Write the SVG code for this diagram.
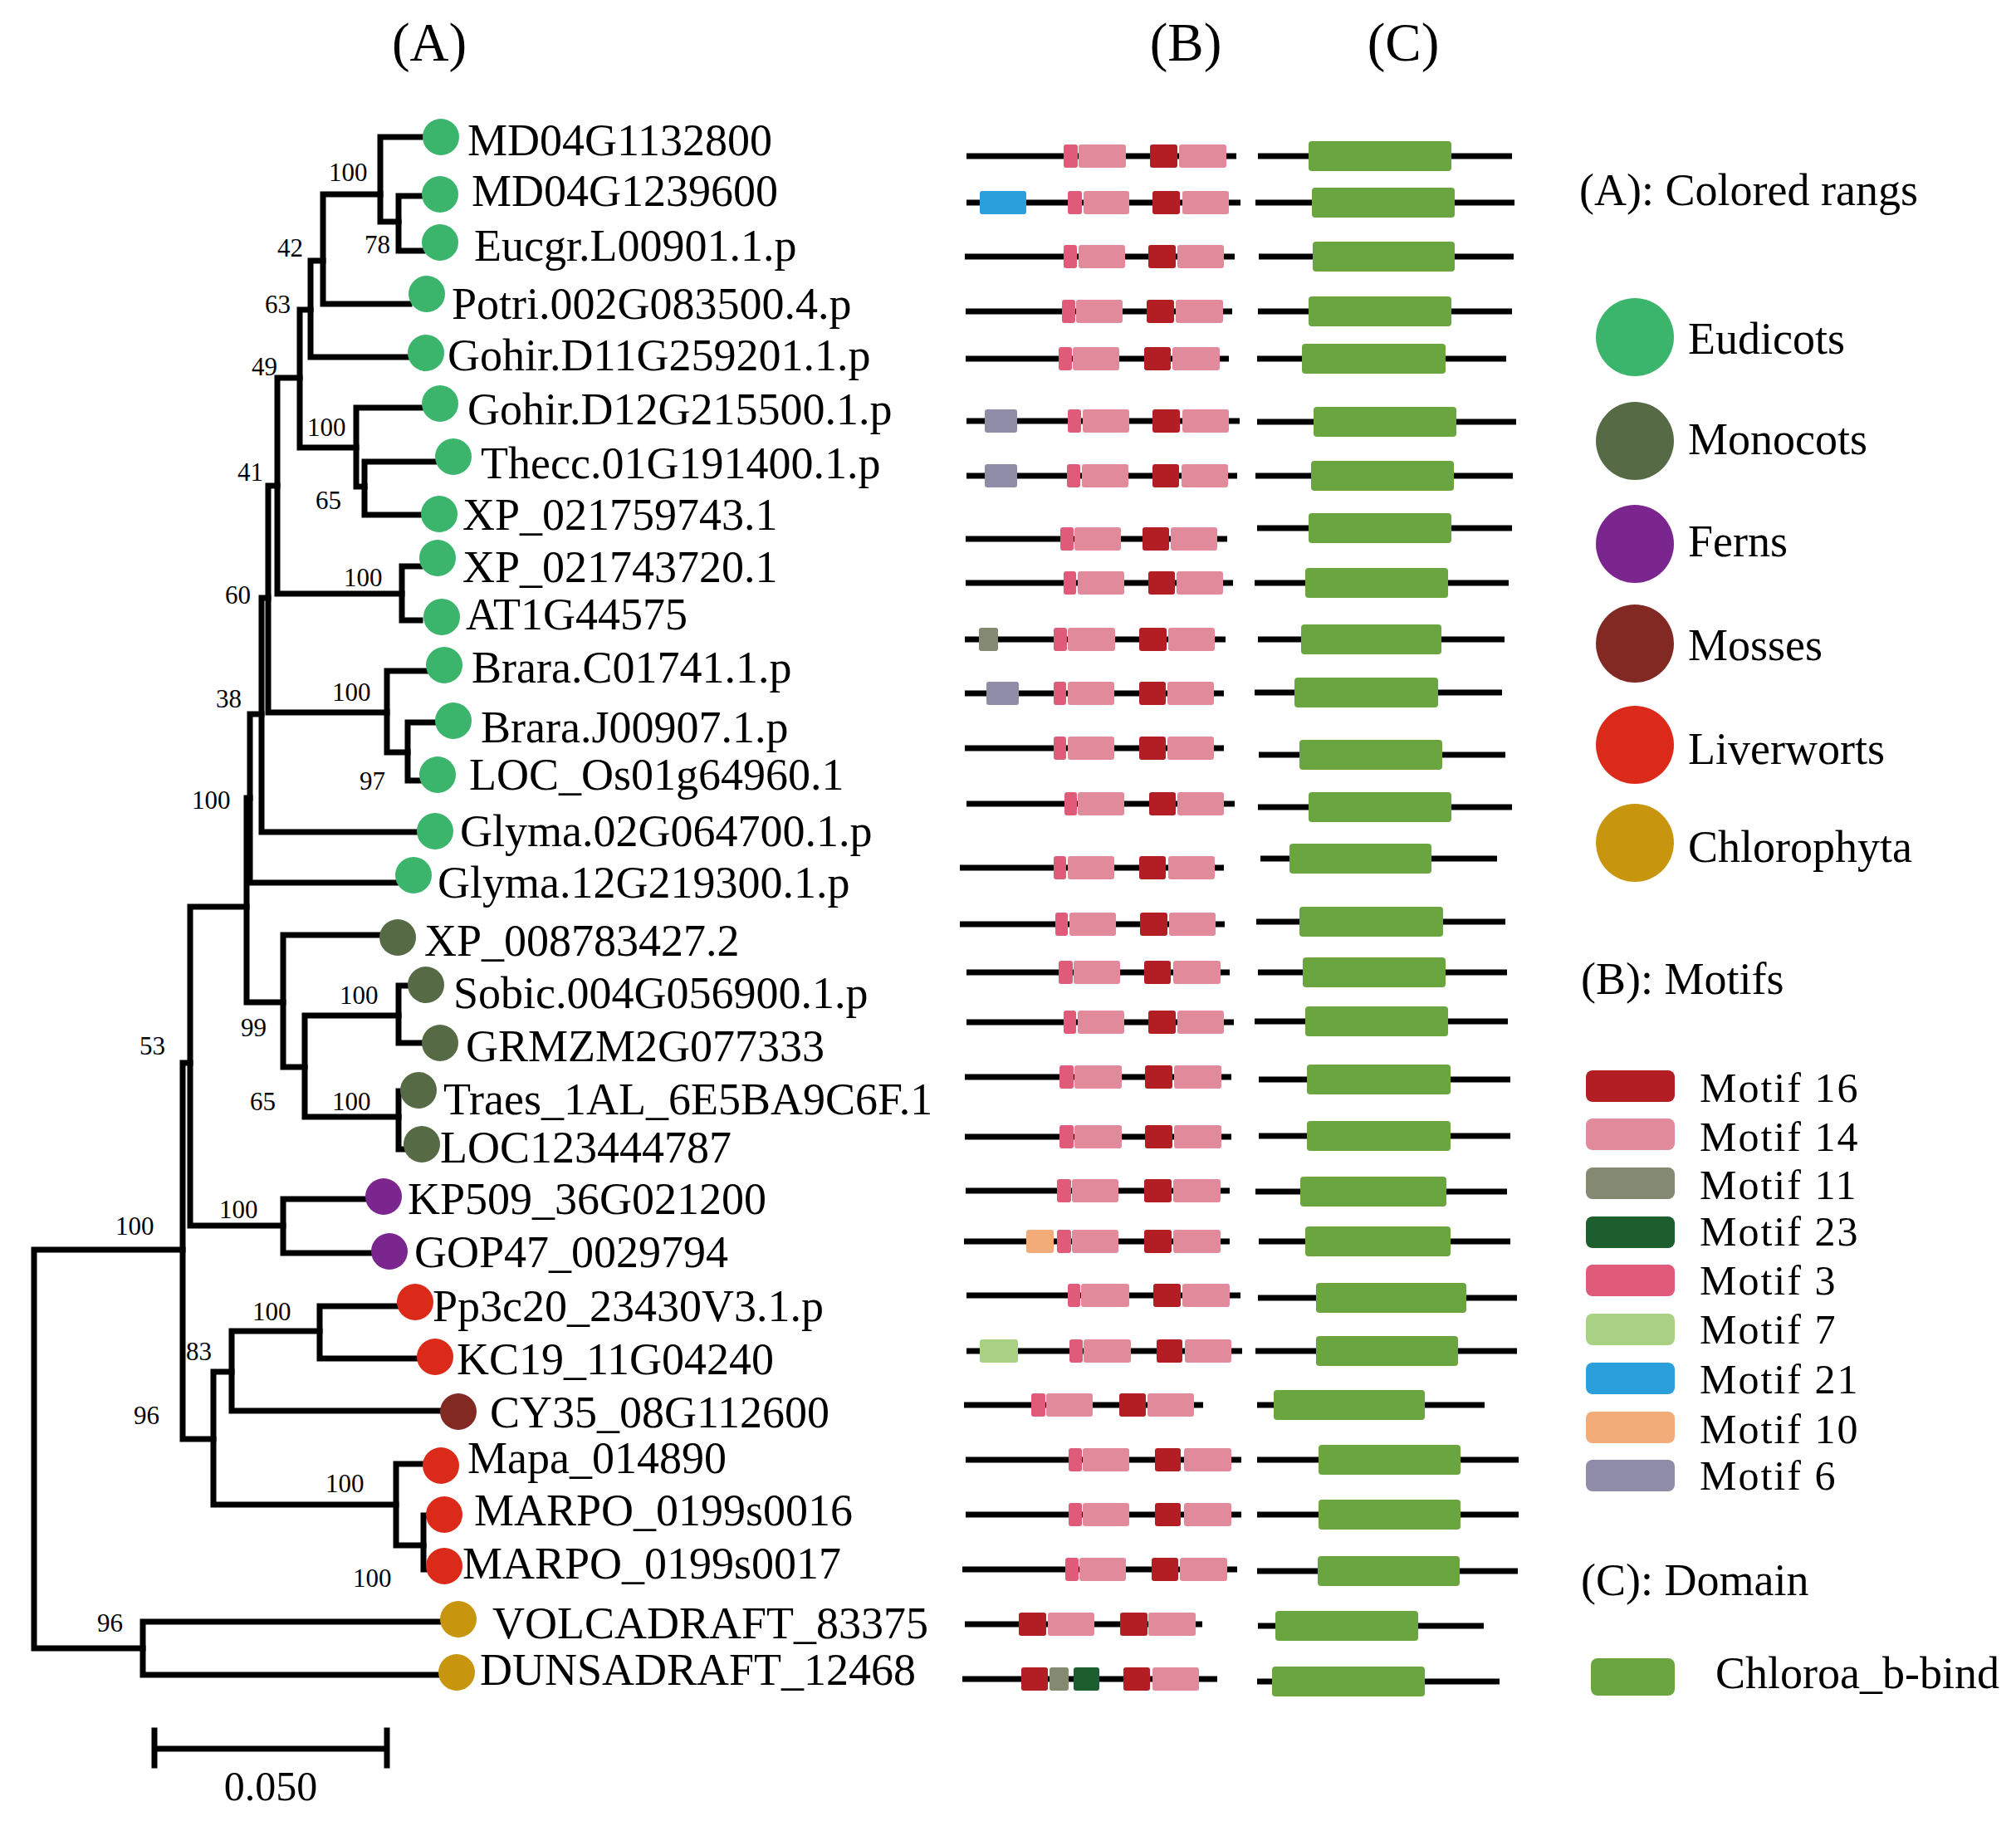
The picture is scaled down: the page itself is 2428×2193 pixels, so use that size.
<svg xmlns="http://www.w3.org/2000/svg" width="2428" height="2193" viewBox="0 0 2428 2193">
<style>
text{font-family:"Liberation Serif","Times New Roman",serif;fill:#000}
.hd{font-size:65px;text-anchor:middle}
.lf{font-size:54px}
.bs{font-size:31px}
.lg{font-size:54px}
.ml{font-size:50px;letter-spacing:2px}
.br{stroke:#000;stroke-width:7;stroke-linecap:square;fill:none}
.pl{stroke:#000;stroke-width:7}
.eu{fill:#3cb56c}.mo{fill:#566b45}.fe{fill:#7b268e}.ms{fill:#812922}.lv{fill:#dc2a1a}.ch{fill:#c8960e}
.m16{fill:#b31e24}.m14{fill:#e08a9c}.m11{fill:#848a72}.m23{fill:#1d5e2e}.m3{fill:#e05a7a}.m7{fill:#a9d183}.m21{fill:#2a9fdc}.m10{fill:#f2ac7a}.m6{fill:#8f8ca8}.dm{fill:#6aa540}
</style>
<rect width="2428" height="2193" fill="#fff"/>
<text class="hd" x="517" y="73">(A)</text>
<text class="hd" x="1428" y="73">(B)</text>
<text class="hd" x="1690" y="73">(C)</text>

<g id="connectors">
<path class="br" d="M220,1505 H41 V1985 H172"/>
<path class="br" d="M530,1953 H172 V2017 H528"/>
<path class="br" d="M229,1280 H220 V1733 H257"/>
<path class="br" d="M297,1092 H229 V1476 H341"/>
<path class="br" d="M440,1444 H341 V1509 H447"/>
<path class="br" d="M301,961 H297 V1207 H341"/>
<path class="br" d="M456,1126 H341 V1285 H367"/>
<path class="br" d="M480,1223 H367 V1345 H480"/>
<path class="br" d="M491,1187 H480 V1256 H508"/>
<path class="br" d="M484,1314 H480 V1384 H486"/>
<path class="br" d="M315,860 H301 V1063 H477"/>
<path class="br" d="M323,720 H315 V1002 H502"/>
<path class="br" d="M334,585 H323 V858 H466"/>
<path class="br" d="M513,808 H466 V906 H491"/>
<path class="br" d="M524,870 H491 V940 H506"/>
<path class="br" d="M361,455 H334 V715 H484"/>
<path class="br" d="M506,682 H484 V747 H506"/>
<path class="br" d="M374,373 H361 V539 H429"/>
<path class="br" d="M509,491 H429 V586 H439"/>
<path class="br" d="M524,556 H439 V620 H508"/>
<path class="br" d="M389,314 H374 V430 H492"/>
<path class="br" d="M458,234 H389 V366 H493"/>
<path class="br" d="M510,165 H458 V267 H480"/>
<path class="br" d="M510,236 H480 V302 H509"/>
<path class="br" d="M279,1652 H257 V1812 H477"/>
<path class="br" d="M385,1603 H279 V1699 H530"/>
<path class="br" d="M477,1573 H385 V1636 H502"/>
<path class="br" d="M510,1763 H477 V1861 H510"/>
<path class="br" d="M513,1825 H510 V1890 H513"/>
</g>

<g id="bootstrap">
<text class="bs" x="396" y="218">100</text>
<text class="bs" x="439" y="305">78</text>
<text class="bs" x="334" y="309">42</text>
<text class="bs" x="319" y="377">63</text>
<text class="bs" x="303" y="452">49</text>
<text class="bs" x="370" y="525">100</text>
<text class="bs" x="380" y="613">65</text>
<text class="bs" x="286" y="579">41</text>
<text class="bs" x="414" y="706">100</text>
<text class="bs" x="271" y="727">60</text>
<text class="bs" x="400" y="844">100</text>
<text class="bs" x="260" y="852">38</text>
<text class="bs" x="433" y="951">97</text>
<text class="bs" x="231" y="974">100</text>
<text class="bs" x="290" y="1248">99</text>
<text class="bs" x="409" y="1209">100</text>
<text class="bs" x="301" y="1337">65</text>
<text class="bs" x="400" y="1337">100</text>
<text class="bs" x="168" y="1270">53</text>
<text class="bs" x="264" y="1467">100</text>
<text class="bs" x="139" y="1487">100</text>
<text class="bs" x="304" y="1590">100</text>
<text class="bs" x="224" y="1638">83</text>
<text class="bs" x="161" y="1715">96</text>
<text class="bs" x="392" y="1797">100</text>
<text class="bs" x="425" y="1911">100</text>
<text class="bs" x="117" y="1965">96</text>
</g>

<g id="leaf01"><circle class="eu" cx="531" cy="165" r="22"/><text class="lf" x="563" y="187">MD04G1132800</text></g>
<g id="leaf02"><circle class="eu" cx="530" cy="234" r="22"/><text class="lf" x="568" y="248">MD04G1239600</text></g>
<g id="leaf03"><circle class="eu" cx="530" cy="292" r="22"/><text class="lf" x="571" y="314">Eucgr.L00901.1.p</text></g>
<g id="leaf04"><circle class="eu" cx="514" cy="354" r="22"/><text class="lf" x="544" y="384">Potri.002G083500.4.p</text></g>
<g id="leaf05"><circle class="eu" cx="513" cy="425" r="22"/><text class="lf" x="539" y="446">Gohir.D11G259201.1.p</text></g>
<g id="leaf06"><circle class="eu" cx="530" cy="486" r="22"/><text class="lf" x="563" y="511">Gohir.D12G215500.1.p</text></g>
<g id="leaf07"><circle class="eu" cx="546" cy="550" r="22"/><text class="lf" x="579" y="576">Thecc.01G191400.1.p</text></g>
<g id="leaf08"><circle class="eu" cx="529" cy="619" r="22"/><text class="lf" x="557" y="638">XP_021759743.1</text></g>
<g id="leaf09"><circle class="eu" cx="527" cy="672" r="22"/><text class="lf" x="557" y="701">XP_021743720.1</text></g>
<g id="leaf10"><circle class="eu" cx="532" cy="743" r="22"/><text class="lf" x="561" y="758">AT1G44575</text></g>
<g id="leaf11"><circle class="eu" cx="535" cy="801" r="22"/><text class="lf" x="568" y="822">Brara.C01741.1.p</text></g>
<g id="leaf12"><circle class="eu" cx="546" cy="868" r="22"/><text class="lf" x="579" y="894">Brara.J00907.1.p</text></g>
<g id="leaf13"><circle class="eu" cx="527" cy="933" r="22"/><text class="lf" x="565" y="951">LOC_Os01g64960.1</text></g>
<g id="leaf14"><circle class="eu" cx="524" cy="1001" r="22"/><text class="lf" x="554" y="1019">Glyma.02G064700.1.p</text></g>
<g id="leaf15"><circle class="eu" cx="498" cy="1054" r="22"/><text class="lf" x="527" y="1081">Glyma.12G219300.1.p</text></g>
<g id="leaf16"><circle class="mo" cx="479" cy="1129" r="22"/><text class="lf" x="511" y="1151">XP_008783427.2</text></g>
<g id="leaf17"><circle class="mo" cx="513" cy="1186" r="22"/><text class="lf" x="546" y="1214">Sobic.004G056900.1.p</text></g>
<g id="leaf18"><circle class="mo" cx="530" cy="1256" r="22"/><text class="lf" x="561" y="1278">GRMZM2G077333</text></g>
<g id="leaf19"><circle class="mo" cx="504" cy="1313" r="22"/><text class="lf" x="534" y="1342">Traes_1AL_6E5BA9C6F.1</text></g>
<g id="leaf20"><circle class="mo" cx="508" cy="1378" r="22"/><text class="lf" x="530" y="1400">LOC123444787</text></g>
<g id="leaf21"><circle class="fe" cx="462" cy="1441" r="22"/><text class="lf" x="491" y="1462">KP509_36G021200</text></g>
<g id="leaf22"><circle class="fe" cx="469" cy="1507" r="22"/><text class="lf" x="499" y="1526">GOP47_0029794</text></g>
<g id="leaf23"><circle class="lv" cx="500" cy="1568" r="22"/><text class="lf" x="521" y="1591">Pp3c20_23430V3.1.p</text></g>
<g id="leaf24"><circle class="lv" cx="524" cy="1634" r="22"/><text class="lf" x="550" y="1655">KC19_11G04240</text></g>
<g id="leaf25"><circle class="ms" cx="552" cy="1700" r="22"/><text class="lf" x="590" y="1719">CY35_08G112600</text></g>
<g id="leaf26"><circle class="lv" cx="531" cy="1765" r="22"/><text class="lf" x="563" y="1774">Mapa_014890</text></g>
<g id="leaf27"><circle class="lv" cx="535" cy="1824" r="22"/><text class="lf" x="571" y="1837">MARPO_0199s0016</text></g>
<g id="leaf28"><circle class="lv" cx="535" cy="1886" r="22"/><text class="lf" x="557" y="1901">MARPO_0199s0017</text></g>
<g id="leaf29"><circle class="ch" cx="552" cy="1950" r="22"/><text class="lf" x="593" y="1973">VOLCADRAFT_83375</text></g>
<g id="leaf30"><circle class="ch" cx="550" cy="2014" r="22"/><text class="lf" x="578" y="2029">DUNSADRAFT_12468</text></g>

<g id="scalebar">
<path class="br" d="M186,2106 H466 M186,2084 V2126 M466,2084 V2126"/>
<text x="326" y="2168" font-size="50" text-anchor="middle">0.050</text>
</g>

<g id="motifs">
<g id="mrow01"><line class="pl" x1="1164" y1="188" x2="1489" y2="188"/><rect class="m3" x="1281" y="174" width="17" height="28" rx="3"/><rect class="m14" x="1299" y="174" width="57" height="28" rx="3"/><rect class="m16" x="1385" y="174" width="33" height="28" rx="3"/><rect class="m14" x="1420" y="174" width="57" height="28" rx="3"/></g>
<g id="mrow02"><line class="pl" x1="1164" y1="244" x2="1494" y2="244"/><rect class="m21" x="1180" y="230" width="56" height="28" rx="3"/><rect class="m3" x="1286" y="230" width="17" height="28" rx="3"/><rect class="m14" x="1305" y="230" width="55" height="28" rx="3"/><rect class="m16" x="1388" y="230" width="33" height="28" rx="3"/><rect class="m14" x="1424" y="230" width="56" height="28" rx="3"/></g>
<g id="mrow03"><line class="pl" x1="1162" y1="309" x2="1487" y2="309"/><rect class="m3" x="1281" y="295" width="16" height="28" rx="3"/><rect class="m14" x="1299" y="295" width="56" height="28" rx="3"/><rect class="m16" x="1383" y="295" width="33" height="28" rx="3"/><rect class="m14" x="1418" y="295" width="56" height="28" rx="3"/></g>
<g id="mrow04"><line class="pl" x1="1163" y1="375" x2="1484" y2="375"/><rect class="m3" x="1279" y="361" width="16" height="28" rx="3"/><rect class="m14" x="1296" y="361" width="56" height="28" rx="3"/><rect class="m16" x="1381" y="361" width="33" height="28" rx="3"/><rect class="m14" x="1416" y="361" width="57" height="28" rx="3"/></g>
<g id="mrow05"><line class="pl" x1="1163" y1="432" x2="1480" y2="432"/><rect class="m3" x="1275" y="418" width="16" height="28" rx="3"/><rect class="m14" x="1292" y="418" width="56" height="28" rx="3"/><rect class="m16" x="1378" y="418" width="32" height="28" rx="3"/><rect class="m14" x="1412" y="418" width="57" height="28" rx="3"/></g>
<g id="mrow06"><line class="pl" x1="1164" y1="507" x2="1493" y2="507"/><rect class="m6" x="1186" y="493" width="39" height="28" rx="3"/><rect class="m3" x="1286" y="493" width="16" height="28" rx="3"/><rect class="m14" x="1304" y="493" width="56" height="28" rx="3"/><rect class="m16" x="1388" y="493" width="33" height="28" rx="3"/><rect class="m14" x="1424" y="493" width="56" height="28" rx="3"/></g>
<g id="mrow07"><line class="pl" x1="1164" y1="573" x2="1490" y2="573"/><rect class="m6" x="1186" y="559" width="39" height="28" rx="3"/><rect class="m3" x="1285" y="559" width="16" height="28" rx="3"/><rect class="m14" x="1303" y="559" width="56" height="28" rx="3"/><rect class="m16" x="1388" y="559" width="32" height="28" rx="3"/><rect class="m14" x="1423" y="559" width="56" height="28" rx="3"/></g>
<g id="mrow08"><line class="pl" x1="1163" y1="649" x2="1478" y2="649"/><rect class="m3" x="1277" y="635" width="16" height="28" rx="3"/><rect class="m14" x="1294" y="635" width="56" height="28" rx="3"/><rect class="m16" x="1376" y="635" width="32" height="28" rx="3"/><rect class="m14" x="1410" y="635" width="56" height="28" rx="3"/></g>
<g id="mrow09"><line class="pl" x1="1163" y1="702" x2="1485" y2="702"/><rect class="m3" x="1281" y="688" width="15" height="28" rx="3"/><rect class="m14" x="1298" y="688" width="56" height="28" rx="3"/><rect class="m16" x="1383" y="688" width="32" height="28" rx="3"/><rect class="m14" x="1417" y="688" width="56" height="28" rx="3"/></g>
<g id="mrow10"><line class="pl" x1="1162" y1="770" x2="1476" y2="770"/><rect class="m11" x="1179" y="756" width="23" height="28" rx="3"/><rect class="m3" x="1269" y="756" width="16" height="28" rx="3"/><rect class="m14" x="1286" y="756" width="57" height="28" rx="3"/><rect class="m16" x="1372" y="756" width="33" height="28" rx="3"/><rect class="m14" x="1407" y="756" width="56" height="28" rx="3"/></g>
<g id="mrow11"><line class="pl" x1="1162" y1="835" x2="1474" y2="835"/><rect class="m6" x="1188" y="821" width="39" height="28" rx="3"/><rect class="m3" x="1269" y="821" width="15" height="28" rx="3"/><rect class="m14" x="1286" y="821" width="56" height="28" rx="3"/><rect class="m16" x="1372" y="821" width="32" height="28" rx="3"/><rect class="m14" x="1406" y="821" width="56" height="28" rx="3"/></g>
<g id="mrow12"><line class="pl" x1="1162" y1="901" x2="1474" y2="901"/><rect class="m3" x="1269" y="887" width="15" height="28" rx="3"/><rect class="m14" x="1286" y="887" width="56" height="28" rx="3"/><rect class="m16" x="1372" y="887" width="32" height="28" rx="3"/><rect class="m14" x="1406" y="887" width="56" height="28" rx="3"/></g>
<g id="mrow13"><line class="pl" x1="1164" y1="968" x2="1487" y2="968"/><rect class="m3" x="1282" y="954" width="15" height="28" rx="3"/><rect class="m14" x="1298" y="954" width="56" height="28" rx="3"/><rect class="m16" x="1384" y="954" width="32" height="28" rx="3"/><rect class="m14" x="1418" y="954" width="56" height="28" rx="3"/></g>
<g id="mrow14"><line class="pl" x1="1156" y1="1045" x2="1474" y2="1045"/><rect class="m3" x="1269" y="1031" width="15" height="28" rx="3"/><rect class="m14" x="1286" y="1031" width="56" height="28" rx="3"/><rect class="m16" x="1372" y="1031" width="32" height="28" rx="3"/><rect class="m14" x="1407" y="1031" width="56" height="28" rx="3"/></g>
<g id="mrow15"><line class="pl" x1="1156" y1="1113" x2="1475" y2="1113"/><rect class="m3" x="1271" y="1099" width="15" height="28" rx="3"/><rect class="m14" x="1288" y="1099" width="56" height="28" rx="3"/><rect class="m16" x="1373" y="1099" width="33" height="28" rx="3"/><rect class="m14" x="1408" y="1099" width="56" height="28" rx="3"/></g>
<g id="mrow16"><line class="pl" x1="1164" y1="1171" x2="1481" y2="1171"/><rect class="m3" x="1275" y="1157" width="17" height="28" rx="3"/><rect class="m14" x="1293" y="1157" width="56" height="28" rx="3"/><rect class="m16" x="1378" y="1157" width="32" height="28" rx="3"/><rect class="m14" x="1413" y="1157" width="57" height="28" rx="3"/></g>
<g id="mrow17"><line class="pl" x1="1164" y1="1231" x2="1486" y2="1231"/><rect class="m3" x="1281" y="1217" width="15" height="28" rx="3"/><rect class="m14" x="1298" y="1217" width="56" height="28" rx="3"/><rect class="m16" x="1383" y="1217" width="33" height="28" rx="3"/><rect class="m14" x="1418" y="1217" width="56" height="28" rx="3"/></g>
<g id="mrow18"><line class="pl" x1="1162" y1="1297" x2="1483" y2="1297"/><rect class="m3" x="1276" y="1283" width="17" height="28" rx="3"/><rect class="m14" x="1294" y="1283" width="57" height="28" rx="3"/><rect class="m16" x="1379" y="1283" width="33" height="28" rx="3"/><rect class="m14" x="1414" y="1283" width="57" height="28" rx="3"/></g>
<g id="mrow19"><line class="pl" x1="1162" y1="1369" x2="1483" y2="1369"/><rect class="m3" x="1276" y="1355" width="17" height="28" rx="3"/><rect class="m14" x="1294" y="1355" width="57" height="28" rx="3"/><rect class="m16" x="1379" y="1355" width="33" height="28" rx="3"/><rect class="m14" x="1414" y="1355" width="57" height="28" rx="3"/></g>
<g id="mrow20"><line class="pl" x1="1163" y1="1434" x2="1481" y2="1434"/><rect class="m3" x="1273" y="1420" width="17" height="28" rx="3"/><rect class="m14" x="1291" y="1420" width="56" height="28" rx="3"/><rect class="m16" x="1378" y="1420" width="33" height="28" rx="3"/><rect class="m14" x="1413" y="1420" width="57" height="28" rx="3"/></g>
<g id="mrow21"><line class="pl" x1="1161" y1="1495" x2="1481" y2="1495"/><rect class="m10" x="1236" y="1481" width="33" height="28" rx="3"/><rect class="m3" x="1273" y="1481" width="17" height="28" rx="3"/><rect class="m14" x="1291" y="1481" width="56" height="28" rx="3"/><rect class="m16" x="1378" y="1481" width="33" height="28" rx="3"/><rect class="m14" x="1413" y="1481" width="57" height="28" rx="3"/></g>
<g id="mrow22"><line class="pl" x1="1164" y1="1560" x2="1494" y2="1560"/><rect class="m3" x="1286" y="1546" width="15" height="28" rx="3"/><rect class="m14" x="1302" y="1546" width="58" height="28" rx="3"/><rect class="m16" x="1389" y="1546" width="33" height="28" rx="3"/><rect class="m14" x="1424" y="1546" width="57" height="28" rx="3"/></g>
<g id="mrow23"><line class="pl" x1="1164" y1="1627" x2="1496" y2="1627"/><rect class="m7" x="1180" y="1613" width="46" height="28" rx="3"/><rect class="m3" x="1288" y="1613" width="16" height="28" rx="3"/><rect class="m14" x="1305" y="1613" width="57" height="28" rx="3"/><rect class="m16" x="1393" y="1613" width="31" height="28" rx="3"/><rect class="m14" x="1427" y="1613" width="56" height="28" rx="3"/></g>
<g id="mrow24"><line class="pl" x1="1161" y1="1692" x2="1449" y2="1692"/><rect class="m3" x="1242" y="1678" width="17" height="28" rx="3"/><rect class="m14" x="1260" y="1678" width="56" height="28" rx="3"/><rect class="m16" x="1348" y="1678" width="32" height="28" rx="3"/><rect class="m14" x="1382" y="1678" width="56" height="28" rx="3"/></g>
<g id="mrow25"><line class="pl" x1="1163" y1="1758" x2="1495" y2="1758"/><rect class="m3" x="1287" y="1744" width="16" height="28" rx="3"/><rect class="m14" x="1304" y="1744" width="56" height="28" rx="3"/><rect class="m16" x="1391" y="1744" width="31" height="28" rx="3"/><rect class="m14" x="1426" y="1744" width="57" height="28" rx="3"/></g>
<g id="mrow26"><line class="pl" x1="1163" y1="1824" x2="1495" y2="1824"/><rect class="m3" x="1287" y="1810" width="16" height="28" rx="3"/><rect class="m14" x="1304" y="1810" width="56" height="28" rx="3"/><rect class="m16" x="1391" y="1810" width="31" height="28" rx="3"/><rect class="m14" x="1426" y="1810" width="57" height="28" rx="3"/></g>
<g id="mrow27"><line class="pl" x1="1159" y1="1890" x2="1490" y2="1890"/><rect class="m3" x="1283" y="1876" width="16" height="28" rx="3"/><rect class="m14" x="1300" y="1876" width="56" height="28" rx="3"/><rect class="m16" x="1387" y="1876" width="32" height="28" rx="3"/><rect class="m14" x="1421" y="1876" width="57" height="28" rx="3"/></g>
<g id="mrow28"><line class="pl" x1="1162" y1="1956" x2="1448" y2="1956"/><rect class="m16" x="1227" y="1942" width="33" height="28" rx="3"/><rect class="m14" x="1262" y="1942" width="56" height="28" rx="3"/><rect class="m16" x="1349" y="1942" width="33" height="28" rx="3"/><rect class="m14" x="1383" y="1942" width="57" height="28" rx="3"/></g>
<g id="mrow29"><line class="pl" x1="1159" y1="2022" x2="1466" y2="2022"/><rect class="m16" x="1230" y="2008" width="32" height="28" rx="3"/><rect class="m11" x="1264" y="2008" width="23" height="28" rx="3"/><rect class="m23" x="1293" y="2008" width="31" height="28" rx="3"/><rect class="m16" x="1353" y="2008" width="32" height="28" rx="3"/><rect class="m14" x="1388" y="2008" width="56" height="28" rx="3"/></g>
</g>

<g id="domains">
<g id="drow01"><line class="pl" x1="1515" y1="188" x2="1821" y2="188"/><rect class="dm" x="1576" y="170" width="172" height="36" rx="4"/></g>
<g id="drow02"><line class="pl" x1="1512" y1="244" x2="1824" y2="244"/><rect class="dm" x="1580" y="226" width="172" height="36" rx="4"/></g>
<g id="drow03"><line class="pl" x1="1516" y1="309" x2="1823" y2="309"/><rect class="dm" x="1581" y="291" width="171" height="36" rx="4"/></g>
<g id="drow04"><line class="pl" x1="1515" y1="375" x2="1821" y2="375"/><rect class="dm" x="1576" y="357" width="172" height="36" rx="4"/></g>
<g id="drow05"><line class="pl" x1="1514" y1="432" x2="1814" y2="432"/><rect class="dm" x="1568" y="414" width="173" height="36" rx="4"/></g>
<g id="drow06"><line class="pl" x1="1514" y1="508" x2="1826" y2="508"/><rect class="dm" x="1582" y="490" width="172" height="36" rx="4"/></g>
<g id="drow07"><line class="pl" x1="1512" y1="573" x2="1822" y2="573"/><rect class="dm" x="1579" y="555" width="172" height="36" rx="4"/></g>
<g id="drow08"><line class="pl" x1="1514" y1="636" x2="1821" y2="636"/><rect class="dm" x="1576" y="618" width="172" height="36" rx="4"/></g>
<g id="drow09"><line class="pl" x1="1511" y1="702" x2="1817" y2="702"/><rect class="dm" x="1572" y="684" width="172" height="36" rx="4"/></g>
<g id="drow10"><line class="pl" x1="1515" y1="770" x2="1812" y2="770"/><rect class="dm" x="1567" y="752" width="169" height="36" rx="4"/></g>
<g id="drow11"><line class="pl" x1="1511" y1="834" x2="1809" y2="834"/><rect class="dm" x="1559" y="816" width="173" height="36" rx="4"/></g>
<g id="drow12"><line class="pl" x1="1516" y1="909" x2="1813" y2="909"/><rect class="dm" x="1565" y="891" width="172" height="36" rx="4"/></g>
<g id="drow13"><line class="pl" x1="1515" y1="972" x2="1821" y2="972"/><rect class="dm" x="1576" y="954" width="172" height="36" rx="4"/></g>
<g id="drow14"><line class="pl" x1="1518" y1="1034" x2="1803" y2="1034"/><rect class="dm" x="1553" y="1016" width="171" height="36" rx="4"/></g>
<g id="drow15"><line class="pl" x1="1513" y1="1110" x2="1813" y2="1110"/><rect class="dm" x="1565" y="1092" width="173" height="36" rx="4"/></g>
<g id="drow16"><line class="pl" x1="1515" y1="1171" x2="1815" y2="1171"/><rect class="dm" x="1569" y="1153" width="172" height="36" rx="4"/></g>
<g id="drow17"><line class="pl" x1="1511" y1="1230" x2="1816" y2="1230"/><rect class="dm" x="1572" y="1212" width="172" height="36" rx="4"/></g>
<g id="drow18"><line class="pl" x1="1516" y1="1300" x2="1819" y2="1300"/><rect class="dm" x="1574" y="1282" width="173" height="36" rx="4"/></g>
<g id="drow19"><line class="pl" x1="1516" y1="1368" x2="1819" y2="1368"/><rect class="dm" x="1574" y="1350" width="173" height="36" rx="4"/></g>
<g id="drow20"><line class="pl" x1="1512" y1="1435" x2="1815" y2="1435"/><rect class="dm" x="1566" y="1417" width="176" height="36" rx="4"/></g>
<g id="drow21"><line class="pl" x1="1516" y1="1495" x2="1819" y2="1495"/><rect class="dm" x="1572" y="1477" width="175" height="36" rx="4"/></g>
<g id="drow22"><line class="pl" x1="1515" y1="1563" x2="1827" y2="1563"/><rect class="dm" x="1585" y="1545" width="181" height="36" rx="4"/></g>
<g id="drow23"><line class="pl" x1="1512" y1="1627" x2="1827" y2="1627"/><rect class="dm" x="1585" y="1609" width="171" height="36" rx="4"/></g>
<g id="drow24"><line class="pl" x1="1514" y1="1692" x2="1788" y2="1692"/><rect class="dm" x="1534" y="1674" width="182" height="36" rx="4"/></g>
<g id="drow25"><line class="pl" x1="1514" y1="1758" x2="1829" y2="1758"/><rect class="dm" x="1588" y="1740" width="171" height="36" rx="4"/></g>
<g id="drow26"><line class="pl" x1="1514" y1="1824" x2="1829" y2="1824"/><rect class="dm" x="1588" y="1806" width="171" height="36" rx="4"/></g>
<g id="drow27"><line class="pl" x1="1514" y1="1892" x2="1828" y2="1892"/><rect class="dm" x="1587" y="1874" width="171" height="36" rx="4"/></g>
<g id="drow28"><line class="pl" x1="1515" y1="1958" x2="1787" y2="1958"/><rect class="dm" x="1536" y="1940" width="172" height="36" rx="4"/></g>
<g id="drow29"><line class="pl" x1="1514" y1="2025" x2="1806" y2="2025"/><rect class="dm" x="1532" y="2007" width="184" height="36" rx="4"/></g>
</g>

<g id="legendA">
<text class="lg" x="1902" y="247">(A): Colored rangs</text>
<circle class="eu" cx="1969" cy="406" r="47"/><text class="lg" x="2033" y="426">Eudicots</text>
<circle class="mo" cx="1969" cy="531" r="47"/><text class="lg" x="2033" y="547">Monocots</text>
<circle class="fe" cx="1969" cy="655" r="47"/><text class="lg" x="2033" y="670">Ferns</text>
<circle class="ms" cx="1969" cy="775" r="47"/><text class="lg" x="2033" y="795">Mosses</text>
<circle class="lv" cx="1969" cy="897" r="47"/><text class="lg" x="2033" y="920">Liverworts</text>
<circle class="ch" cx="1969" cy="1015" r="47"/><text class="lg" x="2033" y="1038">Chlorophyta</text>
</g>

<g id="legendB">
<text class="lg" x="1904" y="1197">(B): Motifs</text>
<rect class="m16" x="1910" y="1289" width="107" height="38" rx="8"/><text class="ml" x="2047" y="1327">Motif 16</text>
<rect class="m14" x="1910" y="1347" width="107" height="38" rx="8"/><text class="ml" x="2047" y="1386">Motif 14</text>
<rect class="m11" x="1910" y="1406" width="107" height="38" rx="8"/><text class="ml" x="2047" y="1444">Motif 11</text>
<rect class="m23" x="1910" y="1465" width="107" height="38" rx="8"/><text class="ml" x="2047" y="1500">Motif 23</text>
<rect class="m3" x="1910" y="1523" width="107" height="38" rx="8"/><text class="ml" x="2047" y="1559">Motif 3</text>
<rect class="m7" x="1910" y="1582" width="107" height="38" rx="8"/><text class="ml" x="2047" y="1618">Motif 7</text>
<rect class="m21" x="1910" y="1641" width="107" height="38" rx="8"/><text class="ml" x="2047" y="1678">Motif 21</text>
<rect class="m10" x="1910" y="1700" width="107" height="38" rx="8"/><text class="ml" x="2047" y="1738">Motif 10</text>
<rect class="m6" x="1910" y="1758" width="107" height="38" rx="8"/><text class="ml" x="2047" y="1794">Motif 6</text>
</g>

<g id="legendC">
<text class="lg" x="1904" y="1921">(C): Domain</text>
<rect class="dm" x="1916" y="1997" width="101" height="45" rx="8"/><text class="lg" x="2066" y="2033">Chloroa_b-bind</text>
</g>
</svg>
